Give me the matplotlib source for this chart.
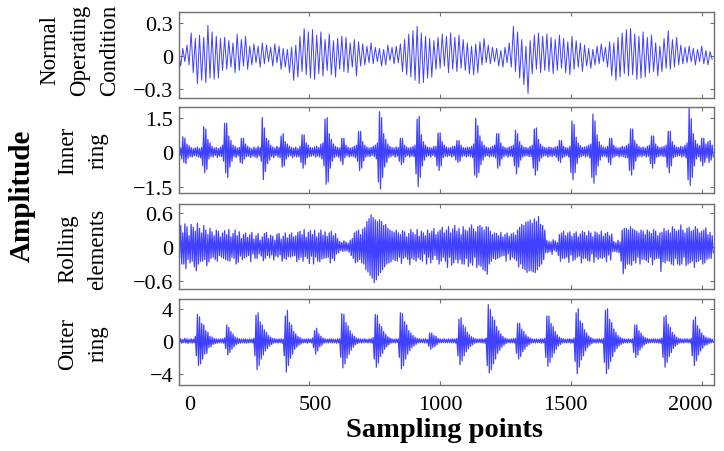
import numpy as np
import matplotlib
matplotlib.use("Agg")
import matplotlib.pyplot as plt

# ---------------- data ----------------
STEP = 8  # sampling points between successive read values
row_labels = ["Normal\nOperating\nCondition", "Inner\nring", "Rolling\nelements", "Outer\nring"]
ytick_values = [0.3, 1.5, 0.6, 4]
ylims = [(-0.38, 0.40), (-1.78, 1.96), (-0.74, 0.76), (-5.4, 5.2)]
xtick_values = [0, 500, 1000, 1500, 2000]
UNIT = 0.01  # all amplitude lists are in hundredths

# Normal operating condition: value every 8th sampling point
normal = [
    3, -9, 7, -5, 10, -8, 21, -15,
    16, -25, 19, -22, 17, -24, 28, -20,
    22, -21, 18, -20, 16, -13, 17, -12,
    14, -10, 12, -15, 20, -13, 15, -9,
    18, -12, 9, -8, 11, -6, 9, -10,
    12, -7, 10, -5, 8, -9, 11, -6,
    9, -12, 7, -10, 6, -15, 8, -22,
    10, -19, 18, -14, 25, -17, 22, -20,
    24, -21, 19, -16, 22, -18, 15, -13,
    20, -17, 14, -19, 16, -12, 18, -14,
    17, -15, 12, -10, 15, -18, 13, -9,
    11, -8, 9, -6, 12, -7, 8, -5,
    7, -9, 6, -8, 10, -4, 8, -7,
    9, -6, 11, -14, 15, -17, 20, -19,
    23, -22, 27, -25, 21, -24, 18, -20,
    16, -19, 14, -12, 17, -11, 20, -9,
    18, -15, 21, -12, 17, -14, 19, -11,
    15, -13, 12, -16, 9, -17, 11, -15,
    13, -8, 16, -6, 10, -7, 8, -5,
    7, -9, 5, -10, 8, -6, 12, -10,
    27, -14, 22, -20, 15, -26, 9, -34,
    14, -16, 19, -12, 21, -15, 18, -13,
    20, -14, 17, -16, 15, -13, 19, -11,
    16, -15, 13, -17, 18, -12, 14, -10,
    12, -14, 10, -9, 7, -11, 6, -8,
    9, -7, 11, -5, 8, -10, 13, -18,
    12, -22, 17, -19, 21, -16, 24, -18,
    25, -17, 20, -21, 18, -20, 22, -19,
    17, -15, 19, -14, 12, -18, 9, -14,
    16, -11, 23, -12, 15, -10, 17, -8,
    10, -7, 8, -6, 9, -5, 7, -8,
    6, -5, 9, -7, 5, -8, 4, -3,
]

# Fault signals are dense: local maxima (at 0, 8, 16, ...) and
# local minima (at 4, 12, 20, ...) read every 8 sampling points.
inner_hi = [
    12, 18, 67, 60, 35, 28, 20, 15,
    18, 22, 15, 20, 110, 100, 55, 40,
    25, 18, 20, 15, 22, 30, 125, 125,
    70, 50, 30, 25, 18, 20, 60, 60,
    35, 25, 20, 15, 22, 18, 25, 20,
    150, 105, 60, 50, 30, 22, 18, 25,
    20, 70, 80, 45, 35, 25, 20, 18,
    22, 15, 25, 75, 75, 40, 30, 20,
    18, 22, 25, 20, 35, 40, 143, 150,
    80, 55, 35, 25, 20, 18, 60, 60,
    30, 22, 18, 20, 25, 30, 90, 90,
    45, 30, 22, 18, 20, 25, 30, 40,
    175, 150, 80, 55, 35, 25, 20, 18,
    22, 20, 60, 60, 30, 22, 18, 20,
    25, 30, 143, 155, 75, 45, 30, 22,
    20, 18, 25, 25, 83, 83, 45, 30,
    22, 18, 20, 25, 25, 50, 50, 30,
    20, 18, 22, 20, 25, 35, 147, 115,
    70, 45, 30, 22, 18, 20, 25, 30,
    80, 80, 40, 25, 20, 18, 22, 25,
    30, 95, 80, 45, 30, 22, 20, 18,
    25, 30, 100, 105, 55, 35, 25, 20,
    18, 22, 20, 18, 22, 25, 50, 50,
    25, 20, 18, 25, 135, 120, 65, 40,
    28, 20, 22, 25, 30, 35, 165, 135,
    75, 45, 30, 22, 20, 25, 60, 60,
    30, 22, 18, 20, 25, 22, 28, 35,
    100, 100, 50, 35, 25, 20, 22, 18,
    25, 30, 70, 70, 35, 25, 20, 22,
    25, 30, 90, 90, 45, 30, 22, 20,
    25, 22, 30, 40, 190, 145, 80, 50,
    35, 28, 60, 60, 35, 45, 50, 30,
]
inner_lo = [
    -18, -30, -45, -50, -26, -20, -22, -16,
    -18, -22, -25, -60, -90, -75, -30, -20,
    -22, -15, -24, -18, -20, -40, -90, -110,
    -65, -40, -20, -24, -16, -45, -50, -30,
    -20, -18, -24, -18, -22, -25, -17, -40,
    -120, -85, -50, -35, -20, -24, -16, -22,
    -25, -65, -60, -30, -20, -16, -25, -18,
    -22, -20, -45, -70, -55, -25, -20, -18,
    -15, -22, -18, -22, -30, -60, -140, -130,
    -70, -40, -24, -18, -22, -40, -55, -25,
    -16, -22, -18, -20, -24, -40, -80, -70,
    -38, -22, -18, -20, -15, -20, -30, -130,
    -160, -110, -65, -45, -24, -20, -16, -22,
    -18, -40, -55, -45, -20, -16, -22, -18,
    -20, -95, -150, -110, -60, -35, -20, -16,
    -22, -15, -20, -60, -80, -60, -24, -18,
    -20, -16, -22, -18, -35, -45, -40, -20,
    -16, -22, -18, -20, -24, -100, -110, -90,
    -55, -35, -20, -16, -22, -18, -20, -25,
    -70, -60, -30, -20, -16, -22, -18, -20,
    -60, -95, -65, -35, -22, -18, -16, -20,
    -20, -70, -100, -80, -40, -25, -18, -16,
    -22, -18, -20, -16, -22, -38, -45, -25,
    -20, -16, -22, -90, -120, -90, -50, -24,
    -20, -16, -22, -18, -25, -110, -135, -100,
    -60, -35, -20, -18, -22, -45, -55, -25,
    -20, -16, -22, -18, -20, -24, -25, -80,
    -100, -75, -40, -22, -18, -20, -16, -22,
    -18, -50, -70, -50, -22, -20, -16, -20,
    -20, -65, -90, -60, -25, -20, -18, -16,
    -22, -18, -25, -120, -145, -110, -60, -30,
    -20, -40, -60, -45, -25, -45, -35, -20,
]

rolling_hi = [
    30, 38, 25, 41, 36, 20, 40, 35,
    28, 42, 33, 25, 38, 30, 22, 33,
    27, 20, 30, 28, 18, 25, 29, 22,
    31, 18, 24, 30, 20, 27, 15, 22,
    25, 17, 22, 26, 14, 20, 24, 12,
    18, 24, 26, 15, 21, 19, 12, 23,
    24, 14, 19, 25, 16, 22, 25, 18,
    20, 26, 28, 22, 31, 17, 26, 29,
    22, 30, 18, 25, 30, 21, 27, 19,
    25, 28, 20, 24, 15, 10, 8, 11,
    9, 7, 12, 15, 25, 28, 30, 22,
    32, 35, 45, 50, 57, 52, 48, 45,
    48, 45, 38, 40, 33, 30, 28, 26,
    30, 25, 22, 29, 27, 18, 24, 31,
    26, 22, 31, 19, 28, 25, 20, 30,
    24, 28, 33, 22, 27, 30, 35, 25,
    30, 36, 25, 32, 38, 28, 33, 22,
    36, 30, 28, 34, 39, 32, 27, 36,
    38, 35, 30, 36, 35, 28, 22, 25,
    24, 20, 26, 18, 22, 25, 19, 23,
    25, 21, 30, 35, 40, 38, 44, 45,
    48, 42, 50, 45, 54, 40, 38, 30,
    12, 10, 9, 13, 11, 8, 22, 25,
    28, 20, 25, 27, 19, 24, 27, 18,
    23, 28, 26, 20, 28, 25, 18, 27,
    25, 22, 28, 19, 24, 26, 20, 23,
    10, 8, 12, 9, 30, 33, 33, 30,
    36, 32, 30, 28, 25, 30, 28, 22,
    30, 27, 24, 31, 28, 20, 25, 26,
    33, 28, 30, 25, 36, 32, 28, 30,
    39, 30, 25, 33, 35, 28, 30, 36,
    32, 25, 28, 30, 34, 22, 26, 20,
]
rolling_lo = [
    -20, -30, -30, -38, -22, -28, -25, -35,
    -42, -30, -25, -25, -22, -33, -26, -20,
    -18, -22, -25, -15, -18, -20, -22, -24,
    -25, -18, -20, -30, -27, -16, -22, -19,
    -17, -15, -26, -12, -20, -20, -12, -16,
    -24, -20, -15, -19, -14, -23, -16, -18,
    -14, -25, -20, -22, -17, -18, -16, -15,
    -26, -22, -18, -25, -17, -20, -29, -16,
    -30, -18, -25, -26, -21, -20, -19, -18,
    -28, -20, -24, -12, -10, -6, -8, -7,
    -7, -9, -15, -20, -28, -26, -22, -28,
    -30, -40, -44, -50, -55, -63, -58, -50,
    -45, -40, -35, -30, -28, -26, -22, -24,
    -25, -18, -29, -20, -18, -22, -31, -20,
    -22, -25, -19, -22, -25, -12, -30, -18,
    -28, -22, -15, -22, -30, -25, -18, -25,
    -36, -18, -32, -28, -22, -28, -22, -30,
    -30, -20, -34, -28, -32, -18, -36, -32,
    -34, -40, -42, -48, -30, -25, -20, -22,
    -20, -18, -16, -15, -25, -12, -23, -18,
    -21, -24, -35, -30, -38, -40, -45, -42,
    -42, -44, -45, -40, -34, -30, -22, -10,
    -10, -8, -13, -6, -8, -15, -25, -20,
    -20, -18, -27, -14, -24, -22, -18, -16,
    -28, -20, -20, -24, -25, -12, -27, -18,
    -22, -19, -20, -18, -26, -14, -23, -8,
    -8, -9, -10, -25, -47, -38, -30, -30,
    -32, -24, -28, -18, -30, -22, -22, -24,
    -27, -18, -31, -22, -20, -20, -43, -26,
    -28, -24, -25, -30, -32, -20, -30, -32,
    -30, -18, -33, -30, -28, -25, -36, -26,
    -25, -22, -30, -28, -22, -20, -20, -10,
]

outer_hi = [
    25, 30, 20, 35, 28, 22, 30, 25,
    60, 330, 300, 220, 200, 130, 110, 60,
    50, 35, 30, 25, 28, 30, 40, 200,
    170, 120, 90, 55, 40, 30, 25, 28,
    30, 22, 28, 25, 35, 320, 350, 240,
    200, 140, 110, 70, 50, 35, 30, 25,
    28, 30, 25, 310, 380, 230, 200, 120,
    90, 60, 45, 30, 25, 28, 30, 25,
    40, 130, 160, 90, 60, 40, 30, 25,
    28, 30, 25, 22, 30, 28, 340, 330,
    230, 190, 130, 90, 60, 40, 30, 28,
    25, 30, 22, 28, 30, 45, 330, 320,
    210, 180, 120, 85, 55, 40, 30, 25,
    28, 30, 350, 340, 240, 200, 130, 100,
    70, 50, 35, 30, 25, 28, 30, 22,
    100, 100, 70, 60, 35, 28, 25, 30,
    22, 28, 25, 30, 28, 35, 270, 290,
    200, 170, 110, 80, 55, 40, 30, 25,
    28, 30, 25, 35, 450, 390, 300, 260,
    180, 130, 90, 60, 40, 30, 25, 28,
    30, 35, 220, 220, 150, 120, 80, 55,
    40, 30, 25, 28, 22, 30, 28, 35,
    310, 310, 220, 180, 120, 80, 50, 35,
    30, 25, 28, 30, 25, 40, 350, 400,
    250, 220, 140, 100, 65, 45, 30, 25,
    28, 30, 25, 35, 380, 400, 270, 230,
    150, 110, 70, 50, 35, 28, 25, 30,
    22, 30, 200, 200, 130, 100, 65, 45,
    35, 28, 25, 30, 28, 25, 30, 40,
    300, 320, 210, 170, 110, 80, 50, 35,
    30, 25, 28, 30, 25, 35, 260, 300,
    190, 150, 100, 70, 50, 40, 35, 25,
]
outer_lo = [
    -20, -25, -18, -22, -28, -20, -25, -20,
    -180, -300, -280, -220, -160, -150, -80, -70,
    -40, -30, -25, -20, -22, -25, -90, -170,
    -140, -100, -70, -45, -30, -25, -20, -22,
    -25, -20, -18, -22, -180, -350, -300, -220,
    -170, -120, -90, -60, -40, -25, -20, -22,
    -20, -25, -180, -380, -300, -210, -160, -100,
    -75, -50, -35, -22, -20, -25, -18, -22,
    -80, -160, -120, -70, -50, -25, -20, -22,
    -18, -22, -20, -25, -20, -200, -330, -280,
    -210, -160, -110, -75, -45, -30, -20, -22,
    -20, -18, -22, -20, -25, -220, -320, -270,
    -190, -150, -100, -70, -45, -25, -20, -22,
    -18, -200, -340, -300, -220, -160, -115, -80,
    -60, -40, -22, -20, -18, -22, -20, -60,
    -100, -80, -65, -45, -22, -20, -18, -20,
    -20, -18, -22, -20, -25, -180, -290, -240,
    -180, -130, -95, -65, -45, -25, -20, -18,
    -20, -22, -25, -300, -390, -350, -280, -220,
    -150, -110, -75, -50, -30, -20, -22, -20,
    -22, -150, -220, -190, -130, -100, -65, -45,
    -25, -20, -22, -18, -20, -25, -20, -200,
    -310, -260, -200, -150, -100, -60, -40, -22,
    -20, -22, -18, -25, -20, -250, -400, -320,
    -230, -180, -120, -80, -50, -30, -20, -22,
    -20, -18, -25, -260, -400, -340, -250, -190,
    -130, -90, -60, -40, -25, -20, -22, -18,
    -20, -140, -200, -170, -110, -80, -50, -30,
    -22, -20, -18, -22, -20, -25, -25, -200,
    -320, -260, -190, -140, -90, -60, -40, -22,
    -20, -22, -18, -20, -22, -180, -300, -240,
    -170, -120, -85, -55, -45, -30, -20, -15,
]

series = [(normal, None), (inner_hi, inner_lo), (rolling_hi, rolling_lo),
          (outer_hi, outer_lo)]
line_widths = [0.7, 0.9, 0.9, 0.9]

# ---------------- figure ----------------
plt.rcParams["font.family"] = ["Liberation Serif", "DejaVu Serif"]

W, H = 724, 452
fig = plt.figure(figsize=(W / 100, H / 100), dpi=100)

left = 178.6 / W
width = (714 - 178.6) / W
tops = [13, 108, 205, 300]
bots = [99, 194, 290, 386]
line_color = "#4040ff"
spine_color = "#707070"

axes = []
for k in range(4):
    ax = fig.add_axes([left, 1 - bots[k] / H, width, (bots[k] - tops[k]) / H])
    first, second = series[k]
    first = np.asarray(first, dtype=float) * UNIT
    if second is None:
        vals = first
        x = np.arange(len(vals)) * STEP
    else:
        second = np.asarray(second, dtype=float) * UNIT
        vals = np.empty(len(first) + len(second))
        vals[0::2] = first
        vals[1::2] = second
        x = np.arange(len(vals)) * (STEP // 2)
    ax.plot(x, vals, color=line_color, lw=line_widths[k])
    ax.set_xlim(0, 2047)
    ax.set_ylim(*ylims[k])
    tv = ytick_values[k]
    ax.set_yticks([-tv, 0, tv])
    ax.set_yticklabels(["\u2212" + f"{tv:g}", "0", f"{tv:g}"])
    ax.set_xticks(xtick_values)
    ax.tick_params(axis="both", which="major", direction="in", length=3,
                   width=0.8, color=spine_color, top=True, right=True,
                   labelsize=16, pad=4)
    ax.set_xticklabels([])
    for sp in ax.spines.values():
        sp.set_color(spine_color)
        sp.set_linewidth(1.0)
    axes.append(ax)

# bottom axis tick labels (label row of the original is slightly compressed)
ax4 = axes[-1]
ax4.xaxis.remove_overlapping_locs = False
label_pos = [1000 + (v - 1000) * 0.956 for v in xtick_values]
ax4.set_xticks(label_pos, minor=True)
ax4.set_xticklabels([str(v) for v in xtick_values], minor=True)
ax4.tick_params(axis="x", which="minor", length=0, labelsize=16, pad=7,
                top=False)

# row labels
label_x = [80 / W, 83 / W, 83 / W, 83 / W]
label_y = [50, 151, 249, 344]
for k in range(4):
    fig.text(label_x[k], 1 - label_y[k] / H, row_labels[k], rotation=90,
             ha="center", va="center", multialignment="center", fontsize=16.5,
             linespacing=1.55)

fig.text(22 / W, 1 - 196 / H, "Amplitude", rotation=90, ha="center",
         va="center", fontsize=21, fontweight="bold")
fig.text(445 / W, 1 - 431 / H, "Sampling points", ha="center", va="center",
         fontsize=20.5, fontweight="bold")

fig.savefig("out.png", dpi=100)
